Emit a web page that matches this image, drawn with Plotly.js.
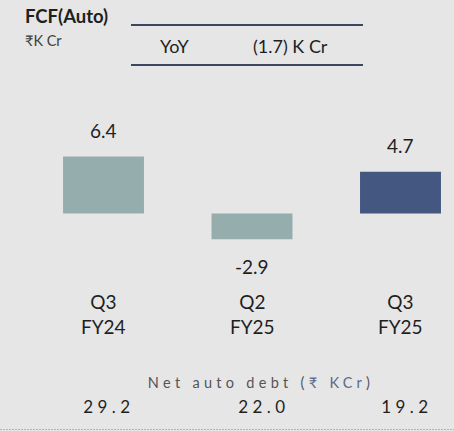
<!DOCTYPE html>
<html><head><meta charset="utf-8">
<script src="https://cdn.plot.ly/plotly-3.0.1.min.js"></script>
<style>html,body{margin:0;padding:0;background:#e6e6e6;overflow:hidden}</style>
</head><body><div id="chart" style="width:454px;height:431px"></div>
<script>
// ---- data ----
const categories = ["Q3<br>FY24", "Q2<br>FY25", "Q3<br>FY25"];
const fcf = [6.4, -2.9, 4.7];
const netDebt = [29.2, 22.0, 19.2];
const titleText = "FCF(Auto)";
const unitText = "₹K Cr";
const yoyLabel = "YoY";
const yoyValue = "(1.7) K Cr";

// ---- styling ----
const W = 454, H = 431;
const FONT = "Lato, 'Noto Sans', 'DejaVu Sans', sans-serif";
const TXT = "#1f1f1f";
const barColors = ["#96adad", "#96adad", "#435781"];
const px = x => x / W;
const py = y => 1 - y / H;
const debtShift = [5, 12, 6];

const trace = {
  type: "bar", x: categories, y: fcf,
  marker: {color: barColors, line: {width: 0}},
  hoverinfo: "skip"
};

const ann = [];
// title block
ann.push({xref:"paper", yref:"paper", x:px(23), y:py(16.5), xanchor:"left", yanchor:"middle", showarrow:false,
  text:"<b>"+titleText+"</b>", font:{family:FONT, size:18.5, color:TXT}});
ann.push({xref:"paper", yref:"paper", x:px(23), y:py(40), xanchor:"left", yanchor:"middle", showarrow:false,
  text:unitText, font:{family:FONT, size:14.5, color:"#404040"}});
ann.push({xref:"paper", yref:"paper", x:px(174), y:py(46), xanchor:"center", yanchor:"middle", showarrow:false,
  text:yoyLabel, font:{family:FONT, size:18, color:TXT}});
ann.push({xref:"paper", yref:"paper", x:px(290), y:py(46), xanchor:"center", yanchor:"middle", showarrow:false,
  text:yoyValue, font:{family:FONT, size:18, color:TXT}});
// value labels
fcf.forEach((v, i) => {
  ann.push({x:categories[i], y:v, xref:"x", yref:"y", yanchor:"middle", showarrow:false,
    yshift: v >= 0 ? 26 : -27, text: v.toFixed(1), font:{family:FONT, size:19, color:TXT}});
});
// category labels
categories.forEach((c, i) => {
  ann.push({x:c, y:py(314), xref:"x", yref:"paper", yanchor:"middle", showarrow:false,
    text:c, font:{family:FONT, size:19, color:TXT}});
});
// net debt header
const headerIndex = ann.length;
ann.push({xref:"paper", yref:"paper", x:px(261), y:py(382), xanchor:"center", yanchor:"middle", showarrow:false,
  text:"Net auto debt (<span style='color:#5b6a8a'>₹ KCr</span>)", font:{family:FONT, size:14.5, color:"#555555"}});
const debtStart = ann.length;
netDebt.forEach((d, i) => {
  ann.push({x:categories[i], y:py(406), xref:"x", yref:"paper", yanchor:"middle", xshift:debtShift[i], showarrow:false,
    text:d.toFixed(1), font:{family:FONT, size:17, color:TXT}});
});

const shapes = [
  {type:"line", xref:"paper", yref:"paper", x0:px(131), x1:px(363), y0:py(25), y1:py(25), line:{color:"#3d465e", width:2}},
  {type:"line", xref:"paper", yref:"paper", x0:px(131), x1:px(363), y0:py(65), y1:py(65), line:{color:"#3d465e", width:2}},
  {type:"line", xref:"paper", yref:"paper", x0:0, x1:1, y0:py(429.5), y1:py(429.5), line:{color:"#b3b3b3", width:1, dash:"2px,1px"}}
];

const zeroPx = 213.5, unitPx = 8.9;
const layout = {
  width: W, height: H,
  margin: {l:0, r:0, t:0, b:0, pad:0},
  paper_bgcolor: "#e6e6e6", plot_bgcolor: "#e6e6e6",
  showlegend: false,
  bargap: 0.455,
  xaxis: {type:"category", range:[-103.5/148.5, 2 + (W-400.5)/148.5], visible:false, fixedrange:true},
  yaxis: {range:[-(H-zeroPx)/unitPx, zeroPx/unitPx], visible:false, fixedrange:true, zeroline:false},
  annotations: ann, shapes: shapes
};

Plotly.newPlot("chart", [trace], layout, {displayModeBar:false, staticPlot:true}).then(() => {
  const sp = (idx, s) => {
    document.querySelectorAll('.annotation[data-index="'+idx+'"] text').forEach(t => t.style.letterSpacing = s);
  };
  sp(headerIndex, "4.3px");
  for (let i = 0; i < netDebt.length; i++) sp(debtStart + i, "4.4px");
});
</script>
</body></html>
